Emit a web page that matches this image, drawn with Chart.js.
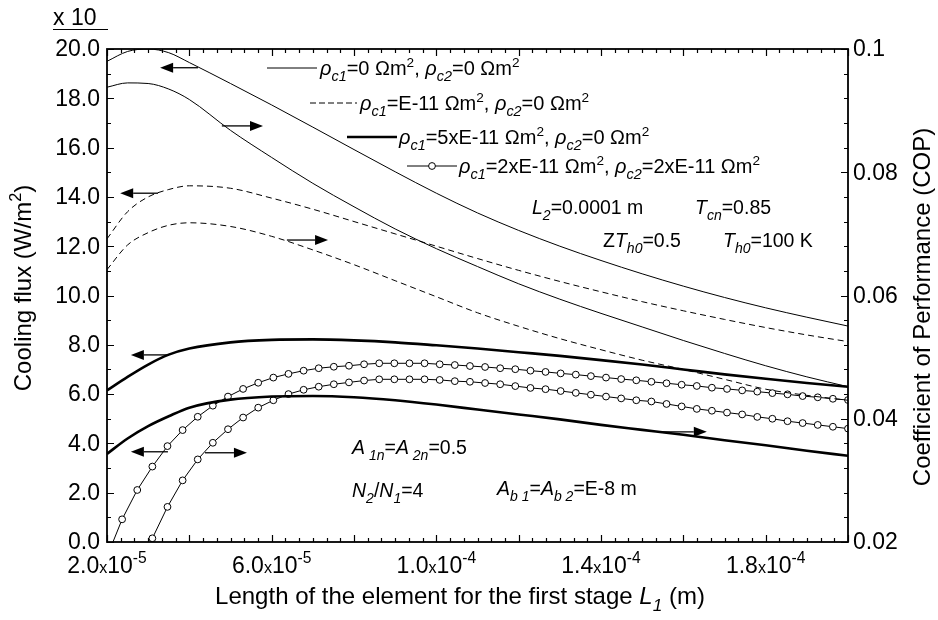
<!DOCTYPE html>
<html>
<head>
<meta charset="utf-8">
<script src="https://cdn.jsdelivr.net/npm/chart.js@4.4.0/dist/chart.umd.min.js"></script>
<style>
  html, body { margin: 0; padding: 0; background: #fff; }
  #wrap { width: 938px; height: 620px; }
</style>
</head>
<body>
<div id="wrap"><canvas id="c"></canvas></div>
<script>
// length L1, in units of 1e-5 m
const xSmooth = [2, 2.5, 3, 3.5, 4, 5, 6, 7, 8, 9, 10, 11, 12, 13, 14, 15, 16, 17, 18, 19, 20];
const xCircle = [2.000, 2.367, 2.735, 3.102, 3.469, 3.837, 4.204, 4.571, 4.939, 5.306,
                 5.673, 6.041, 6.408, 6.776, 7.143, 7.510, 7.878, 8.245, 8.612, 8.980,
                 9.347, 9.714, 10.082, 10.449, 10.816, 11.184, 11.551, 11.918, 12.286, 12.653,
                 13.020, 13.388, 13.755, 14.122, 14.490, 14.857, 15.224, 15.592, 15.959, 16.327,
                 16.694, 17.061, 17.429, 17.796, 18.163, 18.531, 18.898, 19.265, 19.633, 20.000];

// cooling flux (x10 W/m2), left axis
const fluxRc0 = [19.5, 19.9, 20.0, 19.85, 19.45, 18.6, 17.73, 16.83, 15.92, 15.02, 14.15,
                 13.35, 12.64, 12.0, 11.42, 10.88, 10.38, 9.92, 9.5, 9.12, 8.76];
const fluxRc1 = [12.3, 13.4, 14.0, 14.3, 14.45, 14.35, 13.95, 13.5, 13.0, 12.5, 12.0,
                 11.5, 11.02, 10.57, 10.15, 9.75, 9.38, 9.03, 8.7, 8.4, 8.13];
const fluxRc5 = [6.15, 6.7, 7.2, 7.6, 7.85, 8.1, 8.2, 8.22, 8.18, 8.1, 7.98,
                 7.85, 7.7, 7.55, 7.38, 7.2, 7.0, 6.8, 6.62, 6.45, 6.3];
const fluxRc2 = [-0.6, 0.92, 2.11, 3.06, 3.89, 4.54, 5.08, 5.53, 5.90, 6.21,
                 6.46, 6.67, 6.82, 6.95, 7.05, 7.11, 7.15, 7.21, 7.25, 7.25,
                 7.25, 7.25, 7.21, 7.18, 7.14, 7.10, 7.05, 7.01, 6.95, 6.90,
                 6.84, 6.79, 6.73, 6.67, 6.61, 6.56, 6.50, 6.44, 6.38, 6.33,
                 6.26, 6.21, 6.15, 6.10, 6.04, 5.99, 5.92, 5.87, 5.81, 5.76];

// coefficient of performance, right axis
const copRc0 = [0.0938, 0.0945, 0.0944, 0.0935, 0.0918, 0.0868, 0.0824, 0.0782, 0.0744, 0.0708, 0.0676,
                0.0647, 0.0619, 0.0594, 0.0571, 0.0549, 0.0527, 0.0506, 0.0486, 0.0468, 0.0452];
const copRc1 = [0.0642, 0.0682, 0.0702, 0.0714, 0.0718, 0.0712, 0.0696, 0.0674, 0.0650, 0.0624, 0.0598,
                0.0572, 0.0550, 0.0530, 0.0512, 0.0495, 0.0480, 0.0464, 0.0448, 0.0438, 0.0430];
const copRc5 = [0.0343, 0.0368, 0.0388, 0.0404, 0.0418, 0.0431, 0.0436, 0.0437, 0.0435, 0.0430, 0.0423,
                0.0415, 0.0407, 0.0399, 0.0390, 0.0382, 0.0374, 0.0365, 0.0357, 0.0348, 0.0340];
const copRc2 = [null, null, 0.0148, 0.0206, 0.0257, 0.0300, 0.0334, 0.0361, 0.0383, 0.0402,
                0.0418, 0.0430, 0.0440, 0.0447, 0.0452, 0.0456, 0.0459, 0.0462, 0.0464, 0.0464,
                0.0464, 0.0464, 0.0463, 0.0461, 0.0460, 0.0458, 0.0456, 0.0453, 0.0450, 0.0448,
                0.0445, 0.0442, 0.0439, 0.0436, 0.0433, 0.0430, 0.0428, 0.0424, 0.0420, 0.0416,
                0.0413, 0.0410, 0.0407, 0.0403, 0.0400, 0.0396, 0.0393, 0.0390, 0.0387, 0.0384];

// tick labels
const xTickVals = [2, 6, 10, 14, 18];
const xTickMant = ['2.0', '6.0', '1.0', '1.4', '1.8'];
const xTickExp = ['-5', '-5', '-4', '-4', '-4'];
const yTickVals = [0, 2, 4, 6, 8, 10, 12, 14, 16, 18, 20];
const y1TickVals = [0.02, 0.04, 0.06, 0.08, 0.1];
const y1TickText = ['0.02', '0.04', '0.06', '0.08', '0.1'];

// arrows: [tail x, head x, y on left axis]
const arrows = [
  [4.21, 3.29, 19.24], [4.79, 5.79, 16.88],
  [3.24, 2.32, 14.15], [6.37, 7.37, 12.25],
  [3.48, 2.58, 7.59], [3.48, 2.58, 3.66],
  [4.38, 5.40, 3.62], [15.48, 16.57, 4.47]
];

const FONT = '"Liberation Sans", Arial, sans-serif';
function setFont(ctx, sz, it) { ctx.font = (it ? 'italic ' : '') + sz + 'px ' + FONT; }

// parts: [text, flags]  i=italic b=subscript p=superscript s=small
function rich(ctx, parts, x, y, sz, align) {
  let w = 0;
  const segs = parts.map(([t, f]) => {
    const it = f.includes('i');
    let s = sz, dy = 0;
    if (f.includes('b')) { s = sz * 0.72; dy = sz * 0.3; }
    else if (f.includes('p')) { s = sz * 0.68; dy = -sz * 0.42; }
    else if (f.includes('s')) { s = sz * 0.7; }
    setFont(ctx, s, it);
    const mw = ctx.measureText(t).width;
    w += mw;
    return { t, it, s, dy, mw };
  });
  let cx = align === 'center' ? x - w / 2 : align === 'right' ? x - w : x;
  ctx.textAlign = 'left';
  ctx.textBaseline = 'alphabetic';
  segs.forEach(g => { setFont(ctx, g.s, g.it); ctx.fillText(g.t, cx, y + g.dy); cx += g.mw; });
}

const rho = (a, b) => [['ρ', 'i'], ['c' + a, 'ib'], ['=' + b + ' Ωm', ''], ['2', 'p']];
const legendRows = [
  { style: 'thin', x0: 267, x1: 317, y: 68, tx: 320, parts: [...rho(1, '0'), [', ', ''], ...rho(2, '0')] },
  { style: 'dash', x0: 310, x1: 357, y: 103, tx: 360, parts: [...rho(1, 'E-11'), [', ', ''], ...rho(2, '0')] },
  { style: 'thick', x0: 347, x1: 397, y: 137, tx: 399, parts: [...rho(1, '5xE-11'), [', ', ''], ...rho(2, '0')] },
  { style: 'circ', x0: 407, x1: 457, y: 166, tx: 459, parts: [...rho(1, '2xE-11'), [', ', ''], ...rho(2, '2xE-11')] }
];

const notes = [
  { x: 532, y: 214, parts: [['L', 'i'], ['2', 'ib'], ['=0.0001 m', '']] },
  { x: 695, y: 214, parts: [['T', 'i'], ['cn', 'ib'], ['=0.85', '']] },
  { x: 603, y: 247, parts: [['Z', ''], ['T', 'i'], ['h0', 'ib'], ['=0.5', '']] },
  { x: 723, y: 247, parts: [['T', 'i'], ['h0', 'ib'], ['=100 K', '']] },
  { x: 352, y: 454, parts: [['A', 'i'], [' 1n', 'ib'], ['=', ''], ['A', 'i'], [' 2n', 'ib'], ['=0.5', '']] },
  { x: 352, y: 497, parts: [['N', 'i'], ['2', 'ib'], ['/', ''], ['N', 'i'], ['1', 'ib'], ['=4', '']] },
  { x: 497, y: 495, parts: [['A', 'i'], ['b 1', 'ib'], ['=', ''], ['A', 'i'], ['b 2', 'ib'], ['=E-8 m', '']] }
];

const frame = {
  id: 'frame',
  afterDraw(chart) {
    const { ctx, chartArea: a, scales: { x, y, y1 } } = chart;
    ctx.save();
    ctx.strokeStyle = '#000';
    ctx.fillStyle = '#000';

    // ticks, all pointing inward
    ctx.lineWidth = 1.2;
    ctx.beginPath();
    for (let i = 0; i <= 54; i++) {
      const px = Math.round(x.getPixelForValue(2 + i / 3)) + 0.5;
      const len = i % 6 === 0 ? 7 : 4;
      ctx.moveTo(px, a.bottom); ctx.lineTo(px, a.bottom - len);
      ctx.moveTo(px, a.top); ctx.lineTo(px, a.top + len);
    }
    for (let v = 0; v <= 20; v++) {
      const py = Math.round(y.getPixelForValue(v)) + 0.5;
      ctx.moveTo(a.left, py); ctx.lineTo(a.left + (v % 2 === 0 ? 7 : 4), py);
    }
    for (let i = 0; i <= 20; i++) {
      const py = Math.round(y1.getPixelForValue(0.02 + i * 0.004)) + 0.5;
      ctx.moveTo(a.right, py); ctx.lineTo(a.right - (i % 5 === 0 ? 7 : 4), py);
    }
    ctx.stroke();

    // frame
    ctx.lineWidth = 1.8;
    ctx.strokeRect(a.left, a.top, a.right - a.left, a.bottom - a.top);

    // tick labels
    setFont(ctx, 23, false);
    ctx.textAlign = 'right'; ctx.textBaseline = 'middle';
    yTickVals.forEach(v => ctx.fillText(v.toFixed(1), a.left - 7, y.getPixelForValue(v) + 1));
    ctx.textAlign = 'left';
    y1TickVals.forEach((v, i) => ctx.fillText(y1TickText[i], a.right + 5, y1.getPixelForValue(v) + 1));
    xTickVals.forEach((v, i) => {
      rich(ctx, [[xTickMant[i], ''], ['x', 's'], ['10', ''], [xTickExp[i], 'p']],
        x.getPixelForValue(v), a.bottom + 31, 23, 'center');
    });

    // "x 10" multiplier
    rich(ctx, [['x 10', '']], 53, 25, 23, 'left');
    ctx.lineWidth = 1.2;
    ctx.beginPath(); ctx.moveTo(53, 29.5); ctx.lineTo(108, 29.5); ctx.stroke();

    // axis titles
    rich(ctx, [['Length of the element for the first stage ', ''], ['L', 'i'], ['1', 'ib'], [' (m)', '']],
      460, 604, 24, 'center');
    ctx.save(); ctx.translate(31, 288); ctx.rotate(-Math.PI / 2);
    rich(ctx, [['Cooling flux (W/m', ''], ['2', 'p'], [')', '']], 0, 0, 24, 'center');
    ctx.restore();
    ctx.save(); ctx.translate(930, 307); ctx.rotate(-Math.PI / 2);
    rich(ctx, [['Coefficient of Performance (COP)', '']], 0, 0, 24, 'center');
    ctx.restore();

    // legend
    legendRows.forEach(r => {
      ctx.beginPath();
      ctx.lineWidth = r.style === 'thick' ? 2.6 : 1;
      ctx.setLineDash(r.style === 'dash' ? [6, 3] : []);
      ctx.moveTo(r.x0, r.y); ctx.lineTo(r.x1, r.y); ctx.stroke();
      ctx.setLineDash([]);
      if (r.style === 'circ') {
        ctx.beginPath(); ctx.arc((r.x0 + r.x1) / 2, r.y, 3.4, 0, Math.PI * 2);
        ctx.fillStyle = '#fff'; ctx.fill(); ctx.stroke(); ctx.fillStyle = '#000';
      }
      rich(ctx, r.parts, r.tx, r.y + 7, 20, 'left');
    });

    // parameter notes
    notes.forEach(n => rich(ctx, n.parts, n.x, n.y, 19.5, 'left'));

    // arrows
    arrows.forEach(([u0, u1, v]) => {
      const x0 = x.getPixelForValue(u0), x1 = x.getPixelForValue(u1), py = y.getPixelForValue(v);
      const dir = Math.sign(x1 - x0), head = 13;
      ctx.lineWidth = 1.3;
      ctx.beginPath(); ctx.moveTo(x0, py); ctx.lineTo(x1 - dir * head, py); ctx.stroke();
      ctx.beginPath();
      ctx.moveTo(x1, py); ctx.lineTo(x1 - dir * head, py - 5); ctx.lineTo(x1 - dir * head, py + 5);
      ctx.closePath(); ctx.fill();
    });
    ctx.restore();
  }
};

const pts = (xs, ys) => xs.map((v, i) => ({ x: v, y: ys[i] }));
const smooth = (data, axis, width, dash) => ({
  data: pts(xSmooth, data), yAxisID: axis, borderColor: '#000', borderWidth: width,
  borderDash: dash || [], pointRadius: 0, cubicInterpolationMode: 'monotone', clip: 0
});
const circles = (data, axis) => ({
  data: pts(xCircle, data), yAxisID: axis, borderColor: '#000', borderWidth: 1,
  pointRadius: 3.4, pointBackgroundColor: '#fff', pointBorderColor: '#000', pointBorderWidth: 1,
  tension: 0, clip: 0
});

new Chart(document.getElementById('c'), {
  type: 'line',
  data: {
    datasets: [
      smooth(fluxRc0, 'y', 1), smooth(copRc0, 'y1', 1),
      smooth(fluxRc1, 'y', 1, [6, 4]), smooth(copRc1, 'y1', 1, [6, 4]),
      smooth(fluxRc5, 'y', 2.6), smooth(copRc5, 'y1', 2.6),
      circles(fluxRc2, 'y'), circles(copRc2, 'y1')
    ]
  },
  options: {
    responsive: true,
    maintainAspectRatio: false,
    animation: false,
    layout: { padding: { left: 107, right: 90, top: 49, bottom: 78 } },
    plugins: { legend: { display: false }, tooltip: { enabled: false } },
    scales: {
      x: { type: 'linear', min: 2, max: 20, display: false },
      y: { min: 0, max: 20, display: false },
      y1: { min: 0.02, max: 0.1, display: false, position: 'right' }
    }
  },
  plugins: [frame]
});
</script>
</body>
</html>
